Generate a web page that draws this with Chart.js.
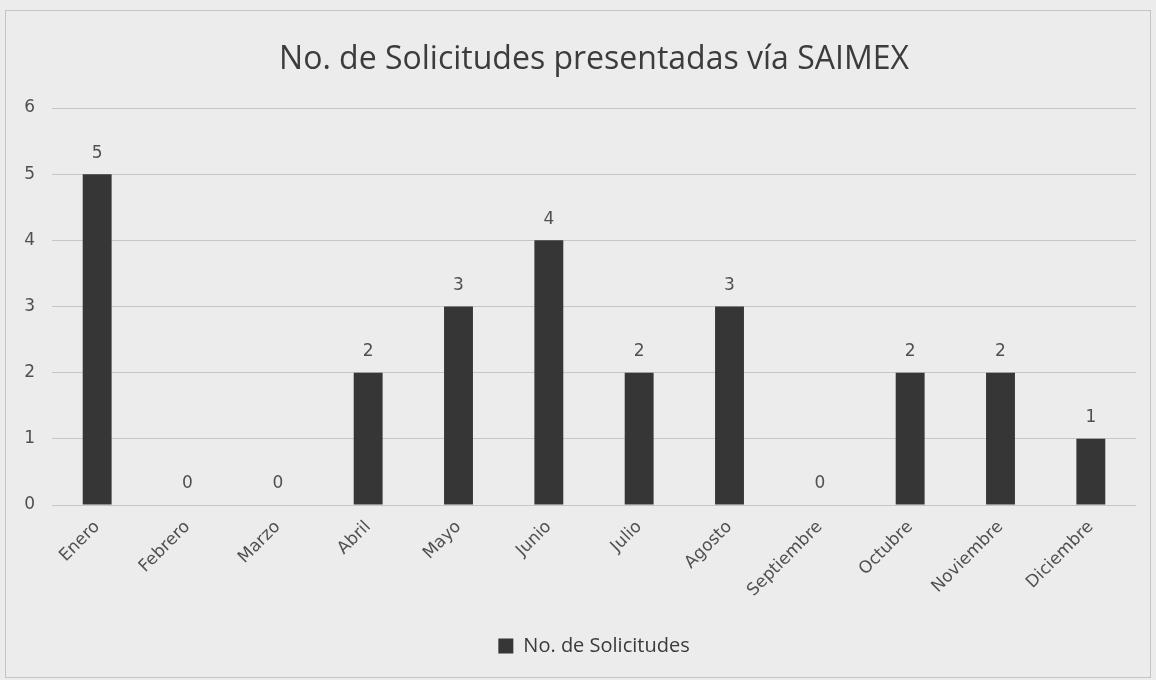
<!DOCTYPE html>
<html>
<head>
<meta charset="utf-8">
<script src="https://cdn.jsdelivr.net/npm/chart.js@4.4.1/dist/chart.umd.min.js"></script>
<style>
  html, body { margin: 0; padding: 0; background: #ececec; }
  #wrap { position: relative; width: 1156px; height: 680px; }
  #frame { position: absolute; left: 5px; top: 10px; width: 1146px; height: 668px; border: 1px solid #c4c4c4; box-sizing: border-box; }
  canvas { position: absolute; left: 0; top: 0; }
</style>
</head>
<body>
<div id="wrap">
  <div id="frame"></div>
  <canvas id="c" width="1156" height="680"></canvas>
</div>
<script>
const categories = ["Enero","Febrero","Marzo","Abril","Mayo","Junio","Julio","Agosto","Septiembre","Octubre","Noviembre","Diciembre"];
const solicitudes = [5, 0, 0, 2, 3, 4, 2, 3, 0, 2, 2, 1];
const seriesName = "No. de Solicitudes";
const chartTitle = "No. de Solicitudes presentadas vía SAIMEX";
const yTicks = [0, 1, 2, 3, 4, 5, 6];

const tickFont = { family: "'DejaVu Sans'", size: 17 };
const textColor = "#505050";

const valueLabels = {
  id: "valueLabels",
  afterDatasetsDraw(chart) {
    const ctx = chart.ctx;
    ctx.save();
    ctx.font = "17px 'DejaVu Sans'";
    ctx.fillStyle = textColor;
    ctx.textAlign = "center";
    ctx.textBaseline = "middle";
    chart.getDatasetMeta(0).data.forEach((bar, i) => {
      ctx.fillText(String(chart.data.datasets[0].data[i]), bar.x, bar.y - 21);
    });
    ctx.restore();
  }
};

new Chart(document.getElementById("c"), {
  type: "bar",
  data: {
    labels: categories,
    datasets: [{
      label: seriesName,
      data: solicitudes,
      backgroundColor: "#363636",
      borderWidth: 0,
      barPercentage: 0.32,
      categoryPercentage: 1.0
    }]
  },
  options: {
    responsive: false,
    animation: false,
    layout: { padding: { left: 0, right: 20, top: 0, bottom: 14 } },
    plugins: {
      title: {
        display: true,
        fullSize: false,
        text: chartTitle,
        color: "#3c3c3c",
        font: { family: "'Open Sans'", size: 32, weight: "normal" },
        padding: { top: 40.8, bottom: 28.8 }
      },
      legend: {
        display: true,
        fullSize: false,
        position: "bottom",
        labels: {
          color: "#3a3a3a",
          font: { family: "'Open Sans'", size: 20 },
          boxWidth: 15,
          boxHeight: 15,
          padding: 10
        }
      },
      tooltip: { enabled: false }
    },
    scales: {
      x: {
        grid: { display: false },
        border: { display: false },
        ticks: {
          color: textColor,
          font: tickFont,
          maxRotation: 45,
          minRotation: 45,
          padding: 4
        },
        afterFit(s) { s.height = 121; }
      },
      y: {
        min: 0,
        max: 6,
        afterBuildTicks(s) { s.ticks = yTicks.map(v => ({ value: v })); },
        grid: { color: "#c6c6c6", lineWidth: 1, drawTicks: false },
        border: { display: false },
        ticks: {
          color: textColor,
          font: tickFont,
          padding: 17
        },
        afterFit(s) { s.width = 52; }
      }
    }
  },
  plugins: [valueLabels]
});
</script>
</body>
</html>
